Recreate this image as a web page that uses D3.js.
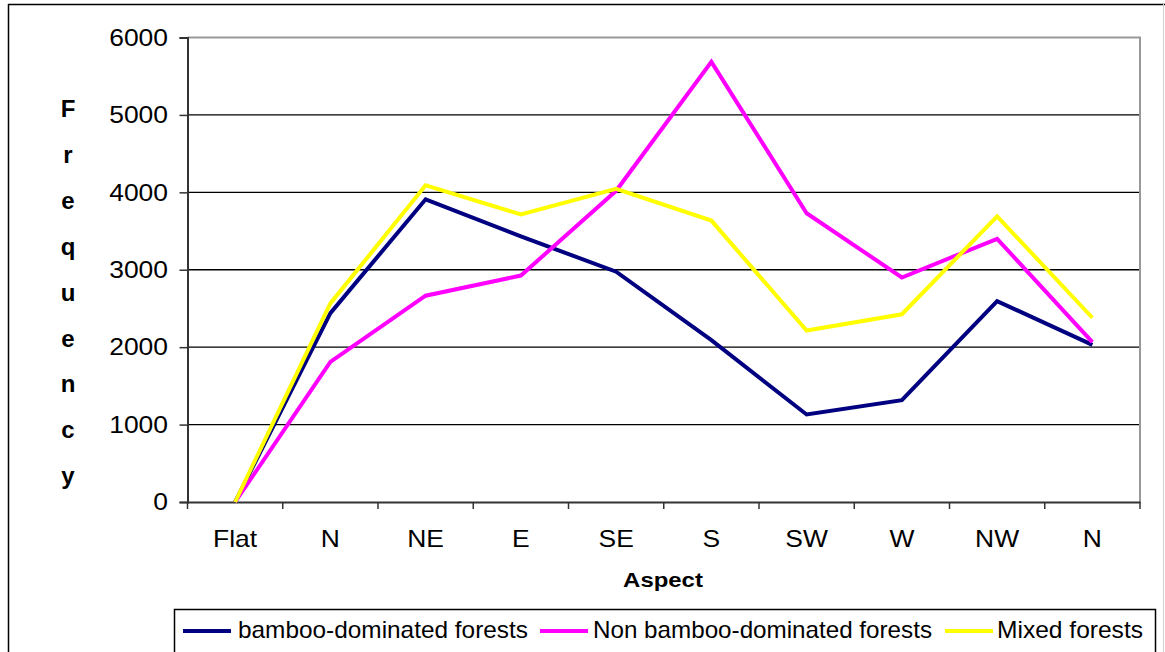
<!DOCTYPE html>
<html>
<head>
<meta charset="utf-8">
<script src="https://cdn.jsdelivr.net/npm/d3@7"></script>
<style>
  body { margin: 0; background: #fff; }
  svg { display: block; font-family: Arial, "Liberation Sans", sans-serif; }
</style>
</head>
<body>
<div id="chart"></div>
<script>
// Aspect categories on the x axis
var aspects = ["Flat", "N", "NE", "E", "SE", "S", "SW", "W", "NW", "N"];
var seriesNames = ["bamboo-dominated forests", "Non bamboo-dominated forests", "Mixed forests"];
// Frequency values
var bamboo = [0, 2440, 3910, 3430, 2975, 2090, 1130, 1315, 2595, 2030];
var nonBamboo = [0, 1810, 2665, 2925, 4020, 5685, 3730, 2900, 3400, 2065];
var mixed = [0, 2565, 4090, 3715, 4045, 3635, 2215, 2425, 3690, 2380];
var yTicks = [0, 1000, 2000, 3000, 4000, 5000, 6000];
var colors = ["#000080", "#ff00ff", "#ffff00"];

var width = 1165, height = 652;
var plot = { left: 187.5, right: 1140, top: 37.5, bottom: 502 };

var svg = d3.select("#chart").append("svg")
    .attr("width", width)
    .attr("height", height);

// outer frame (cut off at bottom like the source)
svg.append("line").attr("x1", 8).attr("x2", 1165).attr("y1", 4.5).attr("y2", 4.5)
    .attr("stroke", "#000").attr("stroke-width", 1.5);
svg.append("line").attr("x1", 8.5).attr("x2", 8.5).attr("y1", 4).attr("y2", height)
    .attr("stroke", "#000").attr("stroke-width", 1.5);
svg.append("line").attr("x1", 1163.5).attr("x2", 1163.5).attr("y1", 4).attr("y2", height)
    .attr("stroke", "#d0d0d0").attr("stroke-width", 1);

var x = d3.scaleBand()
    .domain(d3.range(aspects.length))
    .range([plot.left, plot.right]);

var y = d3.scaleLinear()
    .domain([0, 6000])
    .range([plot.bottom, plot.top]);

// stretched text helper (the source font is drawn wider than Arial)
var stretchText = (parent, tx, ty, str, sx, opts) => {
    let g = parent.append("g").attr("transform", `translate(${tx},${ty}) scale(${sx},1)`);
    let t = g.append("text").text(str)
        .attr("text-anchor", opts.anchor || "middle")
        .attr("font-size", opts.size)
        .attr("font-weight", opts.weight || "normal")
        .attr("fill", "#000");
    if (opts.dy) t.attr("dy", opts.dy);
    return t;
};

// gridlines
svg.append("g")
    .selectAll("line")
    .data(yTicks.filter(d => d > 0 && d < 6000))
    .join("line")
    .attr("x1", plot.left).attr("x2", plot.right)
    .attr("y1", d => y(d)).attr("y2", d => y(d))
    .attr("stroke", "#000").attr("stroke-width", 1.3);

// plot border top/right
svg.append("path")
    .attr("d", `M${plot.left},${plot.top}H${plot.right}V${plot.bottom}`)
    .attr("fill", "none").attr("stroke", "#999").attr("stroke-width", 2);

// y axis
var yAxis = svg.append("g")
    .attr("transform", `translate(${plot.left},0)`)
    .call(d3.axisLeft(y).tickValues(yTicks).tickSize(8).tickFormat(""));
yAxis.select(".domain").attr("stroke", "#333").attr("stroke-width", 2);
yAxis.selectAll(".tick line").attr("stroke", "#333").attr("stroke-width", 1.5);

yTicks.forEach(d => {
    stretchText(svg, 168, y(d), d, 1.15, { anchor: "end", size: 23, dy: "0.36em" });
});

// x axis
var xAxis = svg.append("g")
    .attr("transform", `translate(0,${plot.bottom})`)
    .call(d3.axisBottom(x).tickSize(0).tickFormat(""));
xAxis.select(".domain").attr("stroke", "#333").attr("stroke-width", 2);
xAxis.selectAll(".tick").remove();

svg.append("g")
    .selectAll("line")
    .data(d3.range(aspects.length + 1))
    .join("line")
    .attr("x1", i => plot.left + i * x.step())
    .attr("x2", i => plot.left + i * x.step())
    .attr("y1", plot.bottom).attr("y2", plot.bottom + 7)
    .attr("stroke", "#333").attr("stroke-width", 1.5);

aspects.forEach((a, i) => {
    stretchText(svg, x(i) + x.bandwidth() / 2, 547, a, 1.15, { size: 23 });
});

// axis titles
stretchText(svg, 663, 587, "Aspect", 1.14, { size: 21, weight: "bold" });

var letters = "Frequency".split("");
letters.forEach((c, i) => {
    svg.append("text")
        .attr("x", 68)
        .attr("y", 117 + i * 45.9)
        .attr("text-anchor", "middle")
        .attr("font-size", 24)
        .attr("font-weight", "bold")
        .text(c);
});

// lines
var line = d3.line()
    .x((d, i) => x(i) + x.bandwidth() / 2)
    .y(d => y(d));

var allSeries = [bamboo, nonBamboo, mixed];
svg.append("g")
    .selectAll("path")
    .data(allSeries)
    .join("path")
    .attr("d", d => line(d))
    .attr("fill", "none")
    .attr("stroke", (d, i) => colors[i])
    .attr("stroke-width", 4)
    .attr("stroke-linejoin", "miter");

// legend
var legend = svg.append("g");
legend.append("rect")
    .attr("x", 174.5).attr("y", 609.5)
    .attr("width", 981).attr("height", 60)
    .attr("fill", "#fff").attr("stroke", "#000").attr("stroke-width", 1.5);

var legendItems = [
    { x: 183, tx: 238, w: 290 },
    { x: 540, tx: 593, w: 339 },
    { x: 945, tx: 997, w: 146 }
];
legendItems.forEach((it, i) => {
    legend.append("line")
        .attr("x1", it.x).attr("x2", it.x + 48)
        .attr("y1", 631).attr("y2", 631)
        .attr("stroke", colors[i]).attr("stroke-width", 4);
    legend.append("text")
        .attr("x", it.tx).attr("y", 638)
        .attr("font-size", 24)
        .attr("textLength", it.w)
        .attr("lengthAdjust", "spacingAndGlyphs")
        .text(seriesNames[i]);
});
</script>
</body>
</html>
